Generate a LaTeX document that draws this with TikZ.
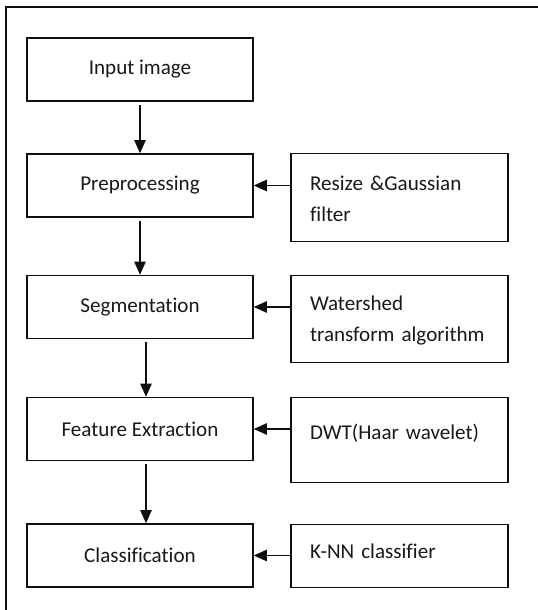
\documentclass[tikz,border=0pt]{standalone}
\usepackage{fontspec}
\setmainfont{Carlito}[Ligatures=NoCommon]
\usetikzlibrary{arrows.meta, positioning, calc}
\definecolor{edgeblack}{RGB}{15, 15, 15}
\definecolor{textdark}{RGB}{25, 25, 25}

\tikzset{
    stagebox/.style={draw=edgeblack, line width=0.85pt, minimum width=4.52cm, minimum height=1.26cm,
        font=\fontsize{12}{18}\selectfont, text=textdark},
    methodbox/.style={draw=edgeblack, line width=0.85pt, anchor=north, text width=3.58cm, align=left,
        inner xsep=0.38cm, inner ysep=0pt, font=\fontsize{12}{17.5}\selectfont, text=textdark},
    flow/.style={line width=0.85pt, edgeblack, -{Triangle[length=7.5pt, width=6.5pt]}}
}

\begin{document}
\begin{tikzpicture}
    \useasboundingbox (0,0) rectangle (10.76,12.2);

    % Outer frame (top and left edge only)
    \draw[line width=1.1pt, edgeblack] (0.12,0) -- (0.12,12.06) -- (10.76,12.06);

    % Main pipeline
    \foreach \n/\y/\txt in {inp/10.81/Input image, pre/8.49/Preprocessing, seg/6.06/Segmentation,
                            fea/3.62/Feature Extraction, cls/1.09/Classification} {
        \node[stagebox] (\n) at (2.8,\y) {\txt};
    }

    % Methods used at each stage
    \node[methodbox, text height=0.74cm, text depth=1.02cm] (res) at (7.99,9.14) {Resize \&Gaussian\\filter};
    \node[methodbox, text height=0.70cm, text depth=1.04cm] (wat) at (7.99,6.70) {Watershed\\transform algorithm};
    \node[methodbox, text height=0.84cm, text depth=0.86cm] (dwt) at (7.99,4.26) {DWT(Haar wavelet)};
    \node[methodbox, text height=0.68cm, text depth=0.58cm] (knn) at (7.99,1.72) {K-NN classifier};

    % Arrows
    \foreach \a/\b/\dx in {inp/pre/0, pre/seg/0, seg/fea/0.12, fea/cls/0.12} {
        \draw[flow, shorten <=0.06cm] ([xshift=\dx cm]\a.south) -- ([xshift=\dx cm]\b.north);
    }
    \foreach \r/\l in {res/pre, wat/seg, dwt/fea, knn/cls} {
        \draw[flow] (\r.west |- \l.east) -- (\l.east);
    }
\end{tikzpicture}
\end{document}
